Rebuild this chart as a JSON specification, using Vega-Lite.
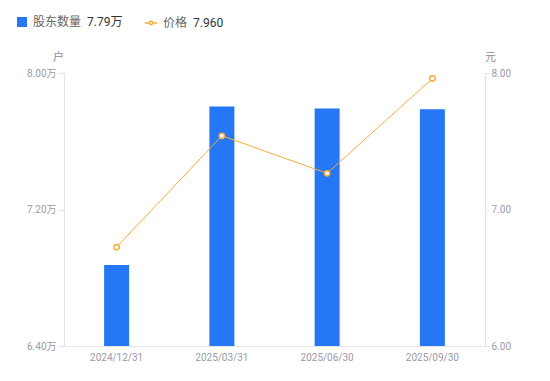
{
  "$schema": "https://vega.github.io/schema/vega-lite/v6.json",
  "width": 421,
  "height": 273,
  "autosize": {"type": "none"},
  "padding": {"left": 64, "top": 73, "right": 65, "bottom": 35},
  "config": {
    "view": {"stroke": null},
    "font": "Roboto, Noto Sans CJK SC",
    "legend": {"padding": 0}
  },
  "data": {
    "values": [
      {"date": "2024/12/31", "holders": 6.875, "price": 6.725},
      {"date": "2025/03/31", "holders": 7.803, "price": 7.54},
      {"date": "2025/06/30", "holders": 7.792, "price": 7.265},
      {"date": "2025/09/30", "holders": 7.788, "price": 7.96}
    ]
  },
  "encoding": {
    "x": {
      "field": "date",
      "type": "ordinal",
      "sort": null,
      "scale": {"paddingInner": 0, "paddingOuter": 0},
      "axis": {
        "title": null,
        "labelAngle": 0,
        "labelColor": "#9a9aaa",
        "labelFontSize": 10,
        "domainColor": "#e3e3e8",
        "ticks": false,
        "labelPadding": 6
      }
    }
  },
  "layer": [
    {
      "mark": {"type": "bar", "size": 25},
      "encoding": {
        "y": {
          "field": "holders",
          "type": "quantitative",
          "scale": {"domain": [6.4, 8.0], "zero": false, "nice": false},
          "axis": {
            "values": [6.4, 7.2, 8.0],
            "labelExpr": "format(datum.value, '.2f') + '万'",
            "title": "户",
            "titleAngle": 0,
            "titleX": -6,
            "titleY": -16,
            "titleAlign": "center",
            "titleBaseline": "middle",
            "titleColor": "#8a8a9a",
            "titleFontSize": 11,
            "titleFontWeight": "normal",
            "labelColor": "#9a9aaa",
            "labelFontSize": 10,
            "labelPadding": 2,
            "tickSize": 6,
            "tickColor": "#e3e3e8",
            "domainColor": "#e3e3e8",
            "grid": false
          }
        },
        "y2": {"datum": 6.4},
        "fill": {
          "datum": "股东数量",
          "scale": {"range": ["#2577f5"]},
          "legend": {
            "orient": "none",
            "legendX": -48,
            "legendY": -57,
            "symbolType": "square",
            "symbolSize": 100,
            "labelColor": "#666666",
            "labelFontSize": 12,
            "labelOffset": 5,
            "title": "7.79万",
            "titleOrient": "right",
            "titlePadding": 6,
            "titleColor": "#333333",
            "titleFontSize": 12,
            "titleFontWeight": "normal",
            "titleBaseline": "middle"
          }
        }
      }
    },
    {
      "encoding": {
        "y": {
          "field": "price",
          "type": "quantitative",
          "scale": {"domain": [6, 8], "zero": false, "nice": false},
          "axis": {
            "orient": "right",
            "values": [6, 7, 8],
            "format": ".2f",
            "title": "元",
            "titleAngle": 0,
            "titleX": 5,
            "titleY": -16,
            "titleAlign": "center",
            "titleBaseline": "middle",
            "titleColor": "#8a8a9a",
            "titleFontSize": 11,
            "titleFontWeight": "normal",
            "labelColor": "#9a9aaa",
            "labelFontSize": 10,
            "labelPadding": 2,
            "tickSize": 4,
            "tickColor": "#e3e3e8",
            "domainColor": "#e3e3e8",
            "grid": false
          }
        }
      },
      "layer": [
        {
          "mark": {"type": "line", "strokeWidth": 1},
          "encoding": {
            "stroke": {
              "datum": "价格",
              "scale": {"range": ["#f8ad3a"]},
              "legend": {
                "orient": "none",
                "legendX": 80,
                "legendY": -57,
                "symbolType": "M -1 0 L -0.28 0 M 0.28 0 L 1 0 M -0.28 0 A 0.28 0.28 0 1 1 0.28 0 A 0.28 0.28 0 1 1 -0.28 0",
                "symbolSize": 144,
                "symbolStrokeWidth": 1.5,
                "symbolFillColor": "white",
                "labelColor": "#666666",
                "labelFontSize": 12,
                "labelOffset": 5,
                "title": "7.960",
                "titleOrient": "right",
                "titlePadding": 6,
                "titleColor": "#333333",
                "titleFontSize": 12,
                "titleFontWeight": "normal",
                "titleBaseline": "middle"
              }
            }
          }
        },
        {
          "mark": {"type": "point", "filled": true, "fill": "white", "stroke": "#f8ad3a", "strokeWidth": 1.5, "size": 28, "opacity": 1}
        }
      ]
    }
  ],
  "resolve": {"scale": {"y": "independent"}}
}
